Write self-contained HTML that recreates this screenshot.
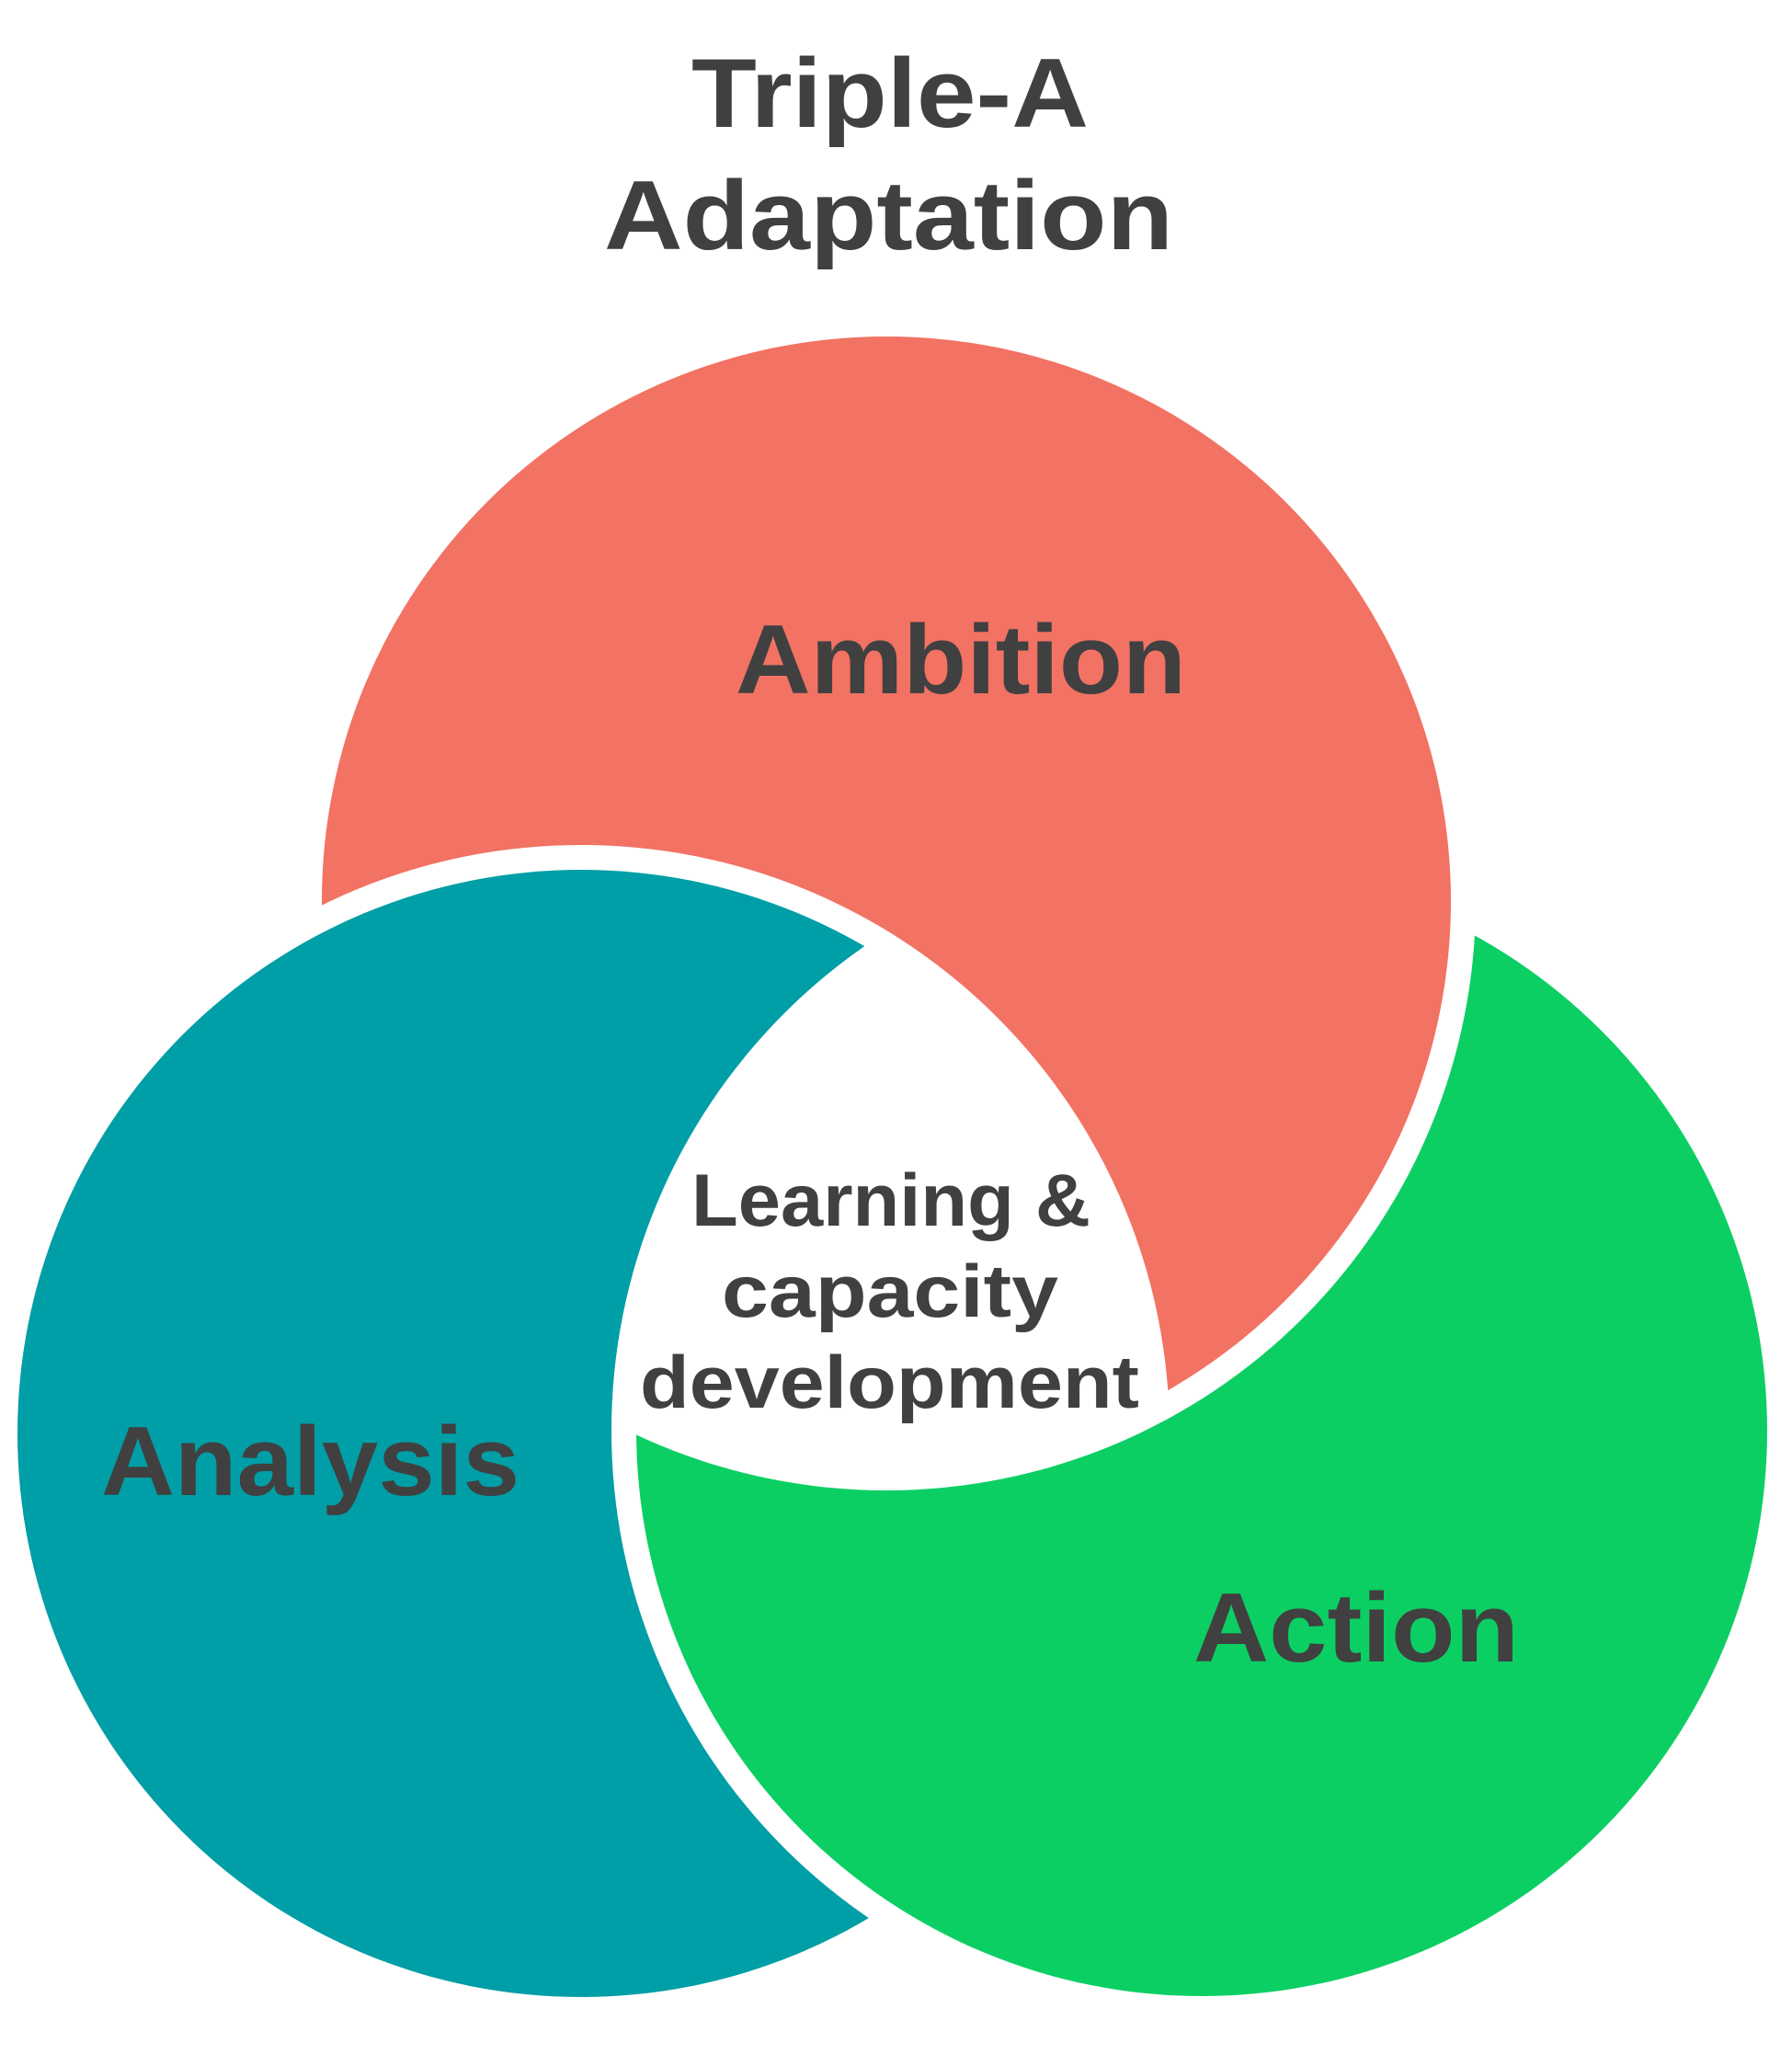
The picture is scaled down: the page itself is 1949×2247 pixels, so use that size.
<!DOCTYPE html>
<html>
<head>
<meta charset="utf-8">
<style>
  html, body { margin: 0; padding: 0; background: #ffffff; }
  svg { display: block; }
  text { font-family: "Liberation Sans", "DejaVu Sans", sans-serif; font-weight: bold; fill: #404040; }
</style>
</head>
<body>
<svg width="1949" height="2247" viewBox="0 0 1949 2247" xmlns="http://www.w3.org/2000/svg">
  <defs>
    <mask id="mRed" maskUnits="userSpaceOnUse" x="0" y="0" width="1949" height="2247">
      <rect x="0" y="0" width="1949" height="2247" fill="black"/>
      <circle cx="964" cy="980" r="614" fill="white"/>
      <circle cx="632" cy="1559" r="640" fill="black"/>
    </mask>
    <mask id="mTeal" maskUnits="userSpaceOnUse" x="0" y="0" width="1949" height="2247">
      <rect x="0" y="0" width="1949" height="2247" fill="black"/>
      <circle cx="632" cy="1559" r="613" fill="white"/>
      <circle cx="1307" cy="1556" r="642" fill="black"/>
    </mask>
    <mask id="mGreen" maskUnits="userSpaceOnUse" x="0" y="0" width="1949" height="2247">
      <rect x="0" y="0" width="1949" height="2247" fill="black"/>
      <circle cx="1307" cy="1556" r="615" fill="white"/>
      <circle cx="964" cy="980" r="641" fill="black"/>
    </mask>
  </defs>

  <rect x="0" y="0" width="1949" height="2247" fill="#ffffff"/>

  <!-- Ambition (red) -->
  <rect x="0" y="0" width="1949" height="2247" fill="#F27263" mask="url(#mRed)"/>
  <!-- Analysis (teal) -->
  <rect x="0" y="0" width="1949" height="2247" fill="#009EA6" mask="url(#mTeal)"/>
  <!-- Action (green) -->
  <rect x="0" y="0" width="1949" height="2247" fill="#0CCF63" mask="url(#mGreen)"/>

  <!-- Title -->
  <text x="752" y="138" font-size="107" textLength="432" lengthAdjust="spacingAndGlyphs">Triple-A</text>
  <text x="657" y="271" font-size="107" textLength="619" lengthAdjust="spacingAndGlyphs">Adaptation</text>

  <!-- Labels -->
  <text x="800" y="754" font-size="107" textLength="490" lengthAdjust="spacingAndGlyphs">Ambition</text>
  <text x="110" y="1626" font-size="107" textLength="455" lengthAdjust="spacingAndGlyphs">Analysis</text>
  <text x="1298" y="1807" font-size="107" textLength="354" lengthAdjust="spacingAndGlyphs">Action</text>

  <!-- Center -->
  <text x="752" y="1333" font-size="81" textLength="434" lengthAdjust="spacingAndGlyphs">Learning &amp;</text>
  <text x="785" y="1432" font-size="81" textLength="366" lengthAdjust="spacingAndGlyphs">capacity</text>
  <text x="696" y="1531" font-size="81" textLength="543" lengthAdjust="spacingAndGlyphs">development</text>
</svg>
</body>
</html>
